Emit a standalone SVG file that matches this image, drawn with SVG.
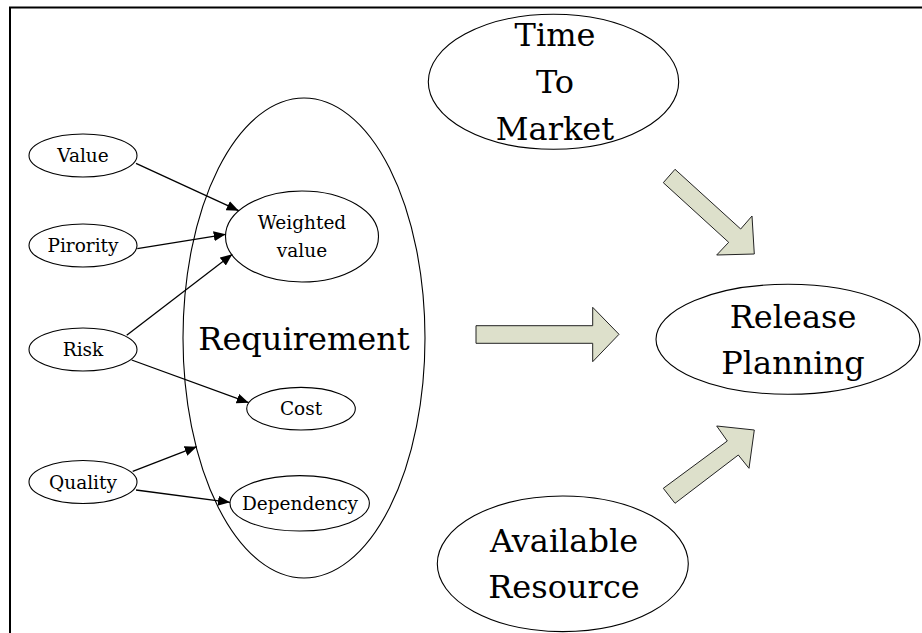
<svg xmlns="http://www.w3.org/2000/svg" width="922" height="633" viewBox="0 0 922 633" font-family="DejaVu Serif, Noto Serif, serif">
<style>
.n{fill:#fff;stroke:#000;stroke-width:1.1}
.t{fill:#000;text-anchor:middle}
.s{font-size:18.5px}
.b{font-size:32px}
.c{stroke:#000;stroke-width:1.3;fill:none;marker-end:url(#ah)}
.blk{fill:#dde0cb;stroke:#222;stroke-width:1}
</style>
<defs>
<marker id="ah" viewBox="0 0 12 10" refX="12" refY="5" markerWidth="12" markerHeight="10" markerUnits="userSpaceOnUse" orient="auto">
<path d="M0,0 L12,5 L0,10 Z" fill="#000"/>
</marker>
</defs>
<rect width="922" height="633" fill="#fff"/>
<path d="M10,640 V7.5 H930" fill="none" stroke="#000" stroke-width="2"/>

<g id="requirement">
<ellipse class="n" cx="304" cy="338" rx="121" ry="240"/>
<text class="t b" x="304" y="350">Requirement</text>
</g>
<g id="value">
<ellipse class="n" cx="83" cy="155.5" rx="54" ry="21.5"/>
<text class="t s" x="83" y="162">Value</text>
</g>
<g id="pirority">
<ellipse class="n" cx="83" cy="245.5" rx="54" ry="21.5"/>
<text class="t s" x="83" y="252">Pirority</text>
</g>
<g id="risk">
<ellipse class="n" cx="83" cy="349.5" rx="54" ry="21.5"/>
<text class="t s" x="83" y="356">Risk</text>
</g>
<g id="quality">
<ellipse class="n" cx="83" cy="482" rx="54" ry="21.5"/>
<text class="t s" x="83" y="488.5">Quality</text>
</g>
<g id="weighted">
<ellipse class="n" cx="302" cy="236.5" rx="76.5" ry="45.5"/>
<text class="t s" x="302" y="229">Weighted</text>
<text class="t s" x="302" y="257">value</text>
</g>
<g id="cost">
<ellipse class="n" cx="301" cy="408.7" rx="54.3" ry="21.3"/>
<text class="t s" x="301" y="415">Cost</text>
</g>
<g id="dependency">
<ellipse class="n" cx="299.7" cy="503.3" rx="69.7" ry="27.7"/>
<text class="t s" x="300" y="510">Dependency</text>
</g>
<g id="time">
<ellipse class="n" cx="553.5" cy="81.8" rx="125.2" ry="67.5"/>
<text class="t b" x="555" y="45.7">Time</text>
<text class="t b" x="555" y="93.3">To</text>
<text class="t b" x="555" y="140">Market</text>
</g>
<g id="release">
<ellipse class="n" cx="788" cy="339.3" rx="132" ry="55"/>
<text class="t b" x="793" y="328.3">Release</text>
<text class="t b" x="793" y="374">Planning</text>
</g>
<g id="resource">
<ellipse class="n" cx="562.8" cy="563.8" rx="125.5" ry="67.8"/>
<text class="t b" x="564" y="551.7">Available</text>
<text class="t b" x="564" y="598.3">Resource</text>
</g>

<g id="connectors">
<line class="c" x1="136" y1="163.3" x2="238.7" y2="210.7"/>
<line class="c" x1="137.3" y1="248.7" x2="225.7" y2="234.3"/>
<line class="c" x1="126.7" y1="335.3" x2="232.3" y2="254.3"/>
<line class="c" x1="131.7" y1="360" x2="248.7" y2="402.7"/>
<line class="c" x1="132.7" y1="471.3" x2="196.7" y2="446.7"/>
<line class="c" x1="136" y1="490" x2="230" y2="502.3"/>
<polygon class="blk" points="476,325.7 592.7,325.7 592.7,307.3 619,334.3 592.7,361.7 592.7,343.3 476,343.3"/>
<polygon class="blk" points="675,169.3 740.7,229 752,216 754.3,254 716.7,255 728.7,242.3 663.3,182.7"/>
<polygon class="blk" points="663.3,488.3 727.3,441 716.7,426 754.3,430 749,468.3 738.3,455 675,503.3"/>
</g>
</svg>
